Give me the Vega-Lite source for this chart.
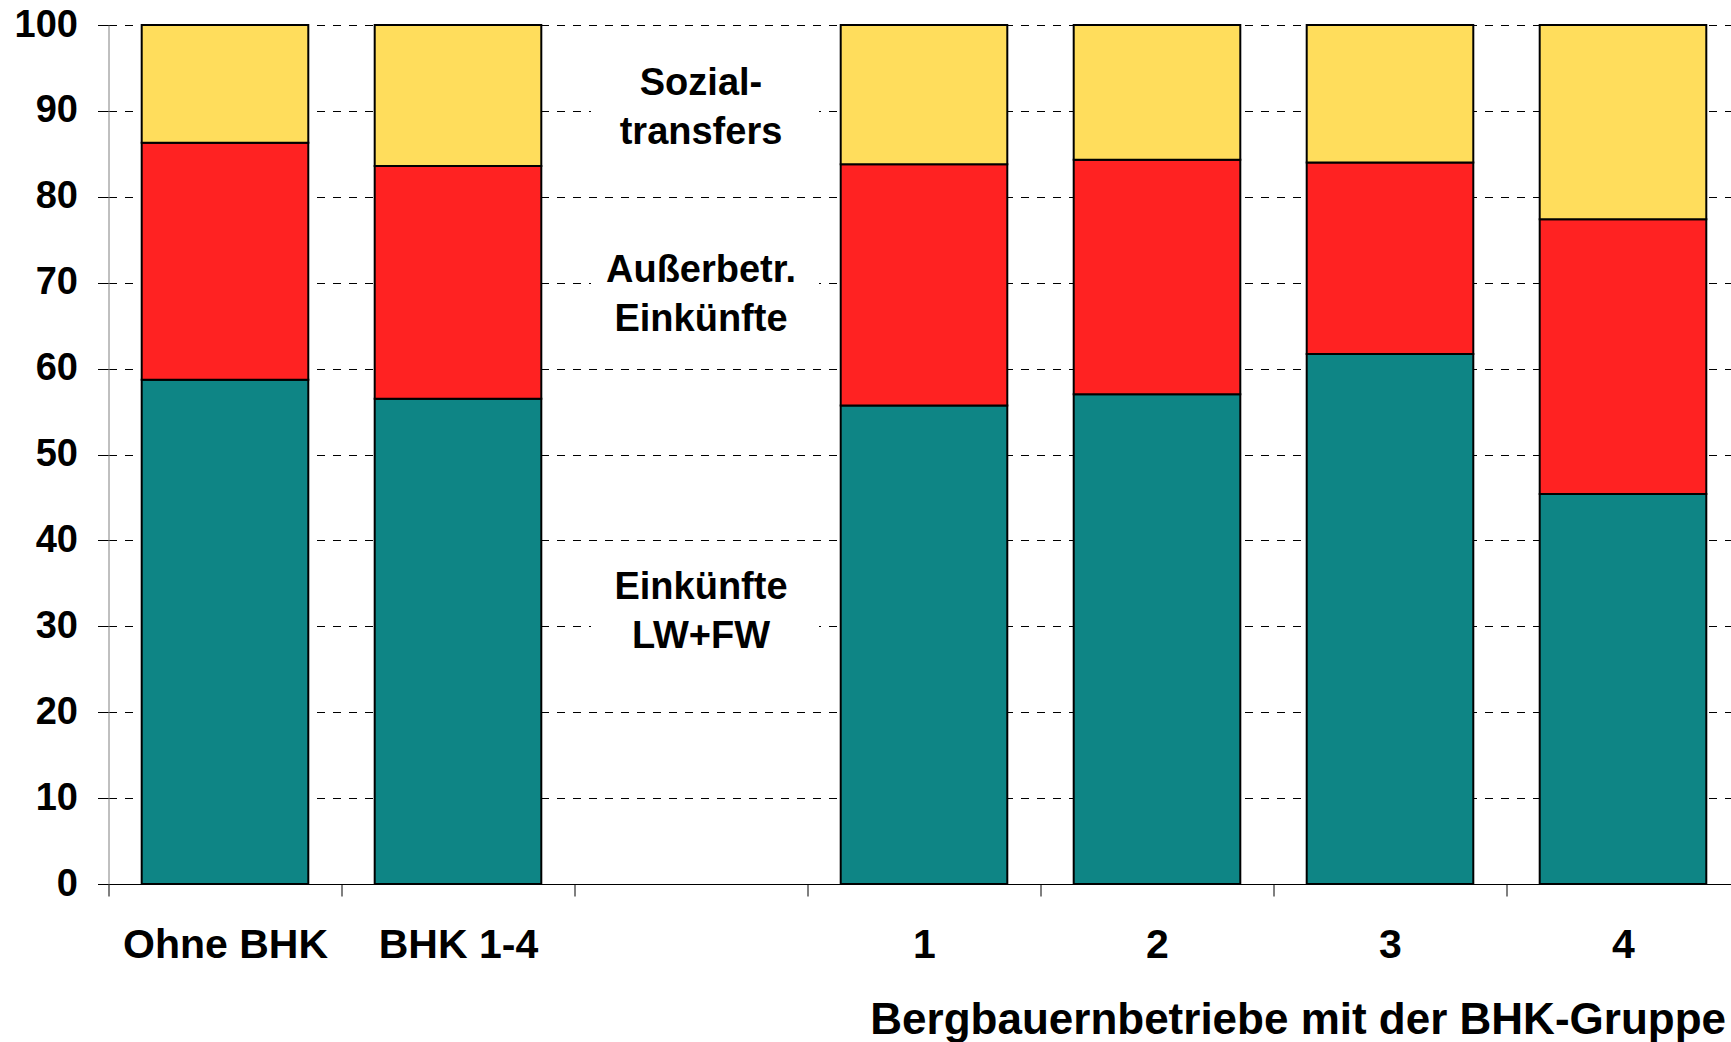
{
  "$schema": "https://vega.github.io/schema/vega-lite/v6.json",
  "width": 1622,
  "height": 859,
  "autosize": {"type": "none"},
  "padding": {"left": 108.5, "top": 25, "right": 0, "bottom": 158},
  "background": "white",
  "config": {"view": {"stroke": null}, "font": "Liberation Sans"},
  "layer": [
    {
      "data": {
        "values": [
          {"gruppe": "Ohne BHK", "komponente": "Einkünfte LW+FW", "reihe": 1, "wert": 58.7},
          {"gruppe": "Ohne BHK", "komponente": "Außerbetr. Einkünfte", "reihe": 2, "wert": 27.6},
          {"gruppe": "Ohne BHK", "komponente": "Sozialtransfers", "reihe": 3, "wert": 13.7},
          {"gruppe": "BHK 1-4", "komponente": "Einkünfte LW+FW", "reihe": 1, "wert": 56.5},
          {"gruppe": "BHK 1-4", "komponente": "Außerbetr. Einkünfte", "reihe": 2, "wert": 27.1},
          {"gruppe": "BHK 1-4", "komponente": "Sozialtransfers", "reihe": 3, "wert": 16.4},
          {"gruppe": "1", "komponente": "Einkünfte LW+FW", "reihe": 1, "wert": 55.7},
          {"gruppe": "1", "komponente": "Außerbetr. Einkünfte", "reihe": 2, "wert": 28.1},
          {"gruppe": "1", "komponente": "Sozialtransfers", "reihe": 3, "wert": 16.2},
          {"gruppe": "2", "komponente": "Einkünfte LW+FW", "reihe": 1, "wert": 57.0},
          {"gruppe": "2", "komponente": "Außerbetr. Einkünfte", "reihe": 2, "wert": 27.3},
          {"gruppe": "2", "komponente": "Sozialtransfers", "reihe": 3, "wert": 15.7},
          {"gruppe": "3", "komponente": "Einkünfte LW+FW", "reihe": 1, "wert": 61.7},
          {"gruppe": "3", "komponente": "Außerbetr. Einkünfte", "reihe": 2, "wert": 22.3},
          {"gruppe": "3", "komponente": "Sozialtransfers", "reihe": 3, "wert": 16.0},
          {"gruppe": "4", "komponente": "Einkünfte LW+FW", "reihe": 1, "wert": 45.4},
          {"gruppe": "4", "komponente": "Außerbetr. Einkünfte", "reihe": 2, "wert": 32.0},
          {"gruppe": "4", "komponente": "Sozialtransfers", "reihe": 3, "wert": 22.6}
        ]
      },
      "mark": {"type": "bar", "stroke": "#000000", "strokeWidth": 2, "width": {"band": 0.715}},
      "encoding": {
        "x": {
          "field": "gruppe",
          "type": "nominal",
          "sort": ["Ohne BHK", "BHK 1-4", " ", "1", "2", "3", "4"],
          "scale": {
            "domain": ["Ohne BHK", "BHK 1-4", " ", "1", "2", "3", "4"],
            "range": [0, 1631],
            "paddingInner": 0,
            "paddingOuter": 0
          },
          "axis": {
            "title": "Bergbauernbetriebe mit der BHK-Gruppe",
            "labelAngle": 0,
            "labelFontSize": 41,
            "labelFontWeight": "bold",
            "labelColor": "#000000",
            "labelPadding": 29,
            "labelLimit": 0,
            "tickBand": "extent",
            "tickSize": 12,
            "tickColor": "#000000",
            "domainColor": "#000000",
            "titleFontSize": 44,
            "titleFontWeight": "bold",
            "titleColor": "#000000",
            "titleAnchor": "end",
            "titleAlign": "right",
            "titleX": 1617,
            "titlePadding": 33,
            "titleLimit": 0
          }
        },
        "y": {
          "field": "wert",
          "type": "quantitative",
          "stack": "zero",
          "scale": {"domain": [0, 100], "nice": false},
          "axis": {
            "title": null,
            "values": [0, 10, 20, 30, 40, 50, 60, 70, 80, 90, 100],
            "grid": true,
            "gridDash": [8, 8],
            "gridColor": "#000000",
            "gridWidth": 1,
            "labelFontSize": 38,
            "labelFontWeight": "bold",
            "labelColor": "#000000",
            "labelFlush": false,
            "labelPadding": 20,
            "tickSize": 11,
            "tickColor": "#000000",
            "domainColor": "#808080"
          }
        },
        "color": {
          "field": "komponente",
          "type": "nominal",
          "scale": {
            "domain": ["Einkünfte LW+FW", "Außerbetr. Einkünfte", "Sozialtransfers"],
            "range": ["#0E8585", "#FF2222", "#FFDD5C"]
          },
          "legend": null
        },
        "order": {"field": "reihe", "type": "quantitative"}
      }
    },
    {
      "data": {"name": "beschriftungen", "values": [
        {"gruppe": " ", "pos": 90.65, "beschriftung": ["Sozial-", "transfers"]},
        {"gruppe": " ", "pos": 68.85, "beschriftung": ["Außerbetr.", "Einkünfte"]},
        {"gruppe": " ", "pos": 31.95, "beschriftung": ["Einkünfte", "LW+FW"]}
      ]},
      "layer": [
        {
          "mark": {"type": "point", "shape": "M -1 -0.45 L 1 -0.45 L 1 0.45 L -1 0.45 Z", "size": 51984, "filled": true, "fill": "#ffffff", "stroke": null, "opacity": 1, "xOffset": 14},
          "encoding": {
            "x": {"field": "gruppe", "type": "nominal"},
            "y": {"field": "pos", "type": "quantitative"}
          }
        },
        {
          "mark": {"type": "text", "fontSize": 38, "fontWeight": "bold", "lineHeight": 49, "baseline": "middle", "align": "center", "dx": 10, "dy": -21.5, "color": "#000000"},
          "encoding": {
            "x": {"field": "gruppe", "type": "nominal"},
            "y": {"field": "pos", "type": "quantitative"},
            "text": {"field": "beschriftung"}
          }
        }
      ]
    }
  ]
}
